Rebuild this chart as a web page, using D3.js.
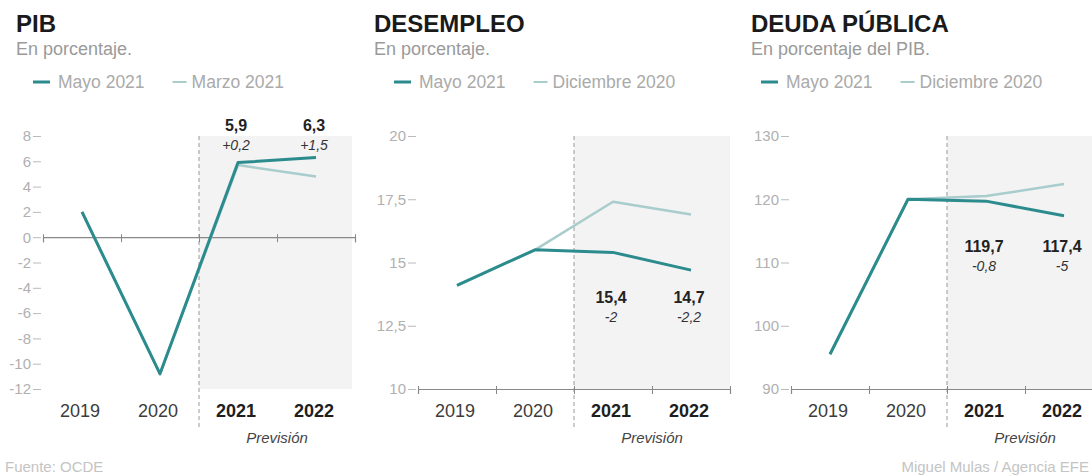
<!DOCTYPE html>
<html lang="es">
  <head>
    <meta charset="utf-8">
    <title>OCDE: previsiones para España</title>
    <style>
      body { margin: 0; background: #fff; }
      svg { display: block; font-family: "Liberation Sans", Arial, sans-serif; }
    </style>
    <script src="https://d3js.org/d3.v7.min.js"></script>
  </head>
  <body>
    <div class="viz"></div>
    <script>
    // datos
    const years = ["2019", "2020", "2021", "2022"];
    const pibMayo = [2.0, -10.8, 5.9, 6.3];
    const pibMarzo = [2.0, -10.8, 5.7, 4.8];
    const paroMayo = [14.1, 15.5, 15.4, 14.7];
    const paroDic = [14.1, 15.5, 17.4, 16.9];
    const deudaMayo = [95.5, 120.0, 119.7, 117.4];
    const deudaDic = [95.5, 120.0, 120.5, 122.4];
    const pibTicks = [-12, -10, -8, -6, -4, -2, 0, 2, 4, 6, 8];
    const paroTicks = [10, 12.5, 15, 17.5, 20];
    const deudaTicks = [90, 100, 110, 120, 130];

    const width = 1092, height = 475;
    const dark = "#2b8b8d", light = "#a9cccc";

    // fuente estrecha si existe
    const ctx = document.createElement("canvas").getContext("2d");
    ctx.font = "20px monospace";
    const wMono = ctx.measureText("2019 Previsión").width;
    ctx.font = "20px 'Liberation Sans Narrow', monospace";
    const hasNarrow = ctx.measureText("2019 Previsión").width != wMono;
    const narrow = hasNarrow ? "'Liberation Sans Narrow', 'Liberation Sans', Arial, sans-serif"
                             : "'Liberation Sans', Arial, sans-serif";
    const k = hasNarrow ? 1.18 : 1; // escala de tamaño para la estrecha

    const es = d3.formatLocale({decimal: ",", thousands: ".", grouping: [3], currency: ["", "€"], minus: "-"});
    const fmt = es.format("~f");
    const fmtDelta = es.format("+.1~f");

    const panels = [
      {title: "PIB", sub: "En porcentaje.", legend: ["Mayo 2021", "Marzo 2021"],
       main: pibMayo, prev: pibMarzo, ticks: pibTicks, base: 0,
       left: 43, titleX: 16, legendX: 33, annot: 8.4, shadeEnd: 352},
      {title: "DESEMPLEO", sub: "En porcentaje.", legend: ["Mayo 2021", "Diciembre 2020"],
       main: paroMayo, prev: paroDic, ticks: paroTicks, base: 10,
       left: 418, titleX: 374, legendX: 394, annot: 13.4, shadeEnd: 730},
      {title: "DEUDA PÚBLICA", sub: "En porcentaje del PIB.", legend: ["Mayo 2021", "Diciembre 2020"],
       main: deudaMayo, prev: deudaDic, ticks: deudaTicks, base: 90,
       left: 791, titleX: 751, legendX: 761, annot: 111.7, shadeEnd: 1092}
    ];

    const svg = d3.select(".viz")
      .append("svg")
      .attr("width", width)
      .attr("height", height)
      .style("background-color", "#fff");

    const yTop = 136, yBottom = 389, span = 312;

    panels.forEach(p => {
      const g = svg.append("g");

      const x = d3.scaleBand().domain(years).range([p.left, p.left + span]).padding(0);
      const cx = d => x(d) + x.bandwidth() / 2;
      const y = d3.scaleLinear().domain(d3.extent(p.ticks)).range([yBottom, yTop]);
      const fx = x("2021");

      // cabecera
      g.append("text").attr("x", p.titleX).attr("y", 32)
        .text(p.title)
        .style("font-size", "24px").style("font-weight", "bold").style("fill", "#1a1a1a");
      g.append("text").attr("x", p.titleX).attr("y", 55)
        .text(p.sub)
        .style("font-size", "18px").style("fill", "#9a9a9a");

      // leyenda
      let lx = p.legendX;
      p.legend.forEach((l, i) => {
        g.append("line")
          .attr("x1", lx).attr("x2", lx + (i == 0 ? 17 : 14))
          .attr("y1", 82).attr("y2", 82)
          .attr("stroke", i == 0 ? dark : light).attr("stroke-width", i == 0 ? 3 : 2);
        const t = g.append("text").attr("x", lx + (i == 0 ? 25 : 19)).attr("y", 88)
          .text(l)
          .style("font-size", "17.5px").style("fill", "#aaa");
        lx = lx + (i == 0 ? 25 : 19) + t.node().getComputedTextLength() + 28;
      });

      // zona de prevision
      g.append("rect")
        .attr("x", fx).attr("y", yTop)
        .attr("width", p.shadeEnd - fx).attr("height", yBottom - yTop)
        .attr("fill", "#f3f3f3");

      g.append("line")
        .attr("x1", fx).attr("x2", fx)
        .attr("y1", yTop).attr("y2", 427)
        .attr("stroke", "#999").attr("stroke-width", 1)
        .attr("stroke-dasharray", "4,3");

      // eje y
      const yAxis = g.append("g")
        .attr("transform", `translate(${p.left - 2},0)`)
        .call(d3.axisLeft(y).tickValues(p.ticks).tickSize(8).tickPadding(2).tickFormat(fmt));
      yAxis.select(".domain").remove();
      yAxis.selectAll("line").attr("stroke", "#bbb");
      yAxis.selectAll("text")
        .style("font-size", (15 * k) + "px").style("fill", "#b0b0b0")
        .style("font-family", narrow);

      // eje x
      const xb = d3.scaleLinear().domain([0, years.length]).range([p.left, p.left + span]);
      const xAxis = g.append("g")
        .attr("transform", `translate(0,${y(p.base)})`)
        .call(d3.axisBottom(xb).tickValues(d3.range(years.length + 1)).tickSize(5).tickFormat(""));
      xAxis.select(".domain").attr("stroke", "#888").attr("stroke-width", 1.2);
      xAxis.selectAll(".tick line").attr("stroke", "#888").attr("y1", -3);

      // años
      g.selectAll(".year")
        .data(years)
        .join("text")
        .attr("x", d => cx(d) - 2)
        .attr("y", 417)
        .attr("text-anchor", "middle")
        .text(d => d)
        .style("font-family", narrow)
        .style("font-size", (18 * k) + "px")
        .style("font-weight", d => d >= "2021" ? "bold" : "normal")
        .style("fill", d => d >= "2021" ? "#1e1e1e" : "#3c3c3c");

      g.append("text")
        .attr("x", x("2022"))
        .attr("y", 443)
        .attr("text-anchor", "middle")
        .text("Previsión")
        .style("font-family", narrow)
        .style("font-size", (15 * k) + "px").style("font-style", "italic").style("fill", "#444");

      // lineas
      const line = d3.line().x((d, i) => cx(years[i])).y(d => y(d));
      g.append("path").datum(p.prev)
        .attr("d", line).attr("fill", "none")
        .attr("stroke", light).attr("stroke-width", 2.5)
        .attr("stroke-linejoin", "round");
      g.append("path").datum(p.main)
        .attr("d", line).attr("fill", "none")
        .attr("stroke", dark).attr("stroke-width", 3)
        .attr("stroke-linejoin", "round");

      // etiquetas de prevision
      [2, 3].forEach(i => {
        g.append("text")
          .attr("x", cx(years[i]) - 2).attr("y", y(p.annot))
          .attr("text-anchor", "middle")
          .text(fmt(p.main[i]))
          .style("font-family", narrow)
          .style("font-size", (16 * k) + "px").style("font-weight", "bold").style("fill", "#222");
        g.append("text")
          .attr("x", cx(years[i]) - 2).attr("y", y(p.annot) + 19)
          .attr("text-anchor", "middle")
          .text(fmtDelta(p.main[i] - p.prev[i]))
          .style("font-family", narrow)
          .style("font-size", (14 * k) + "px").style("font-style", "italic").style("fill", "#333");
      });
    });

    svg.append("text")
      .attr("x", 5).attr("y", 472)
      .text("Fuente: OCDE")
      .style("font-size", "15px").style("fill", "#c4c4c4");

    svg.append("text")
      .attr("x", 1089).attr("y", 472)
      .attr("text-anchor", "end")
      .text("Miguel Mulas / Agencia EFE")
      .style("font-size", "15px").style("fill", "#c4c4c4");
    </script>
  </body>
</html>
